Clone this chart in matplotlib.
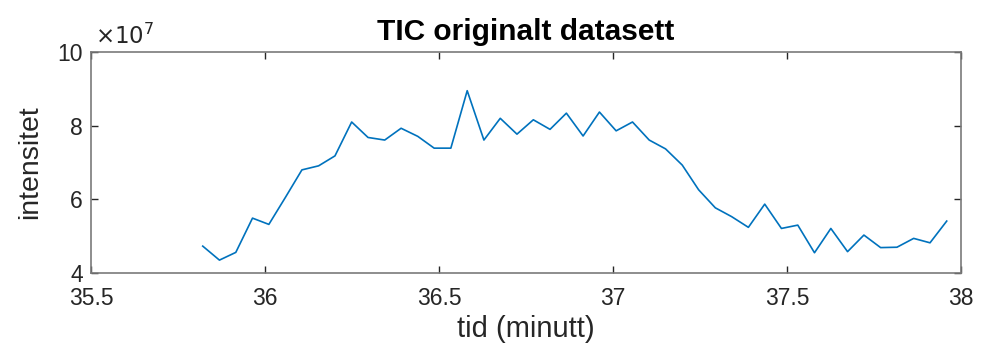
import numpy as np
import matplotlib
matplotlib.use("Agg")
import matplotlib.pyplot as plt

# retention time (min) and TIC intensity (x 1e7)
tid = [35.821, 35.869, 35.916, 35.964, 36.011, 36.059, 36.106, 36.154, 36.201, 36.249,
       36.296, 36.344, 36.391, 36.439, 36.486, 36.534, 36.581, 36.629, 36.676, 36.724,
       36.771, 36.819, 36.866, 36.914, 36.961, 37.009, 37.056, 37.104, 37.151, 37.199,
       37.246, 37.294, 37.341, 37.389, 37.436, 37.484, 37.531, 37.579, 37.626, 37.674,
       37.721, 37.769, 37.816, 37.864, 37.911, 37.959]
intensitet = [4.73, 4.35, 4.56, 5.49, 5.32, 6.06, 6.80, 6.91, 7.18, 8.10,
              7.68, 7.61, 7.93, 7.71, 7.39, 7.39, 8.95, 7.61, 8.20, 7.77,
              8.16, 7.90, 8.34, 7.72, 8.37, 7.86, 8.10, 7.61, 7.37, 6.93,
              6.26, 5.77, 5.53, 5.24, 5.87, 5.21, 5.30, 4.55, 5.21, 4.58,
              5.03, 4.69, 4.70, 4.94, 4.82, 5.41]

xticks = [35.5, 36, 36.5, 37, 37.5, 38]
yticks = [4, 6, 8, 10]

plt.rcParams['font.family'] = ['Liberation Sans', 'DejaVu Sans']

fig = plt.figure(figsize=(9.81, 3.58), dpi=100)
ax = fig.add_axes([0.0928, 0.2374, 0.8868, 0.6173])

ax.plot(tid, intensitet, color='#0072BD', linewidth=1.2)

ax.set_xlim(35.5, 38)
ax.set_ylim(4, 10)
ax.set_xticks(xticks)
ax.set_xticklabels(['35.5', '36', '36.5', '37', '37.5', '38'])
ax.set_yticks(yticks)
ax.set_yticklabels([str(v) for v in yticks])

gray = '#262626'
for s in ax.spines.values():
    s.set_color('#7a7a7a')
    s.set_linewidth(1.2)
ax.tick_params(direction='in', top=True, right=True, length=5, width=1,
               color='#262626', labelcolor=gray, labelsize=16.5)
ax.tick_params(axis='x', pad=10)
ax.tick_params(axis='y', pad=6)

ax.set_xlabel('tid (minutt)', fontsize=21, color=gray, labelpad=4)
ax.set_ylabel('intensitet', fontsize=20.5, color=gray, labelpad=10)
ax.set_title('TIC originalt datasett', fontsize=21.5, fontweight='bold', color='black', pad=9)
ax.text(0.004, 1.015, r'$\times10^{7}$', transform=ax.transAxes, fontsize=16.5,
        color=gray, ha='left', va='bottom', math_fontfamily='dejavusans')

fig.savefig('out.png', dpi=100)
